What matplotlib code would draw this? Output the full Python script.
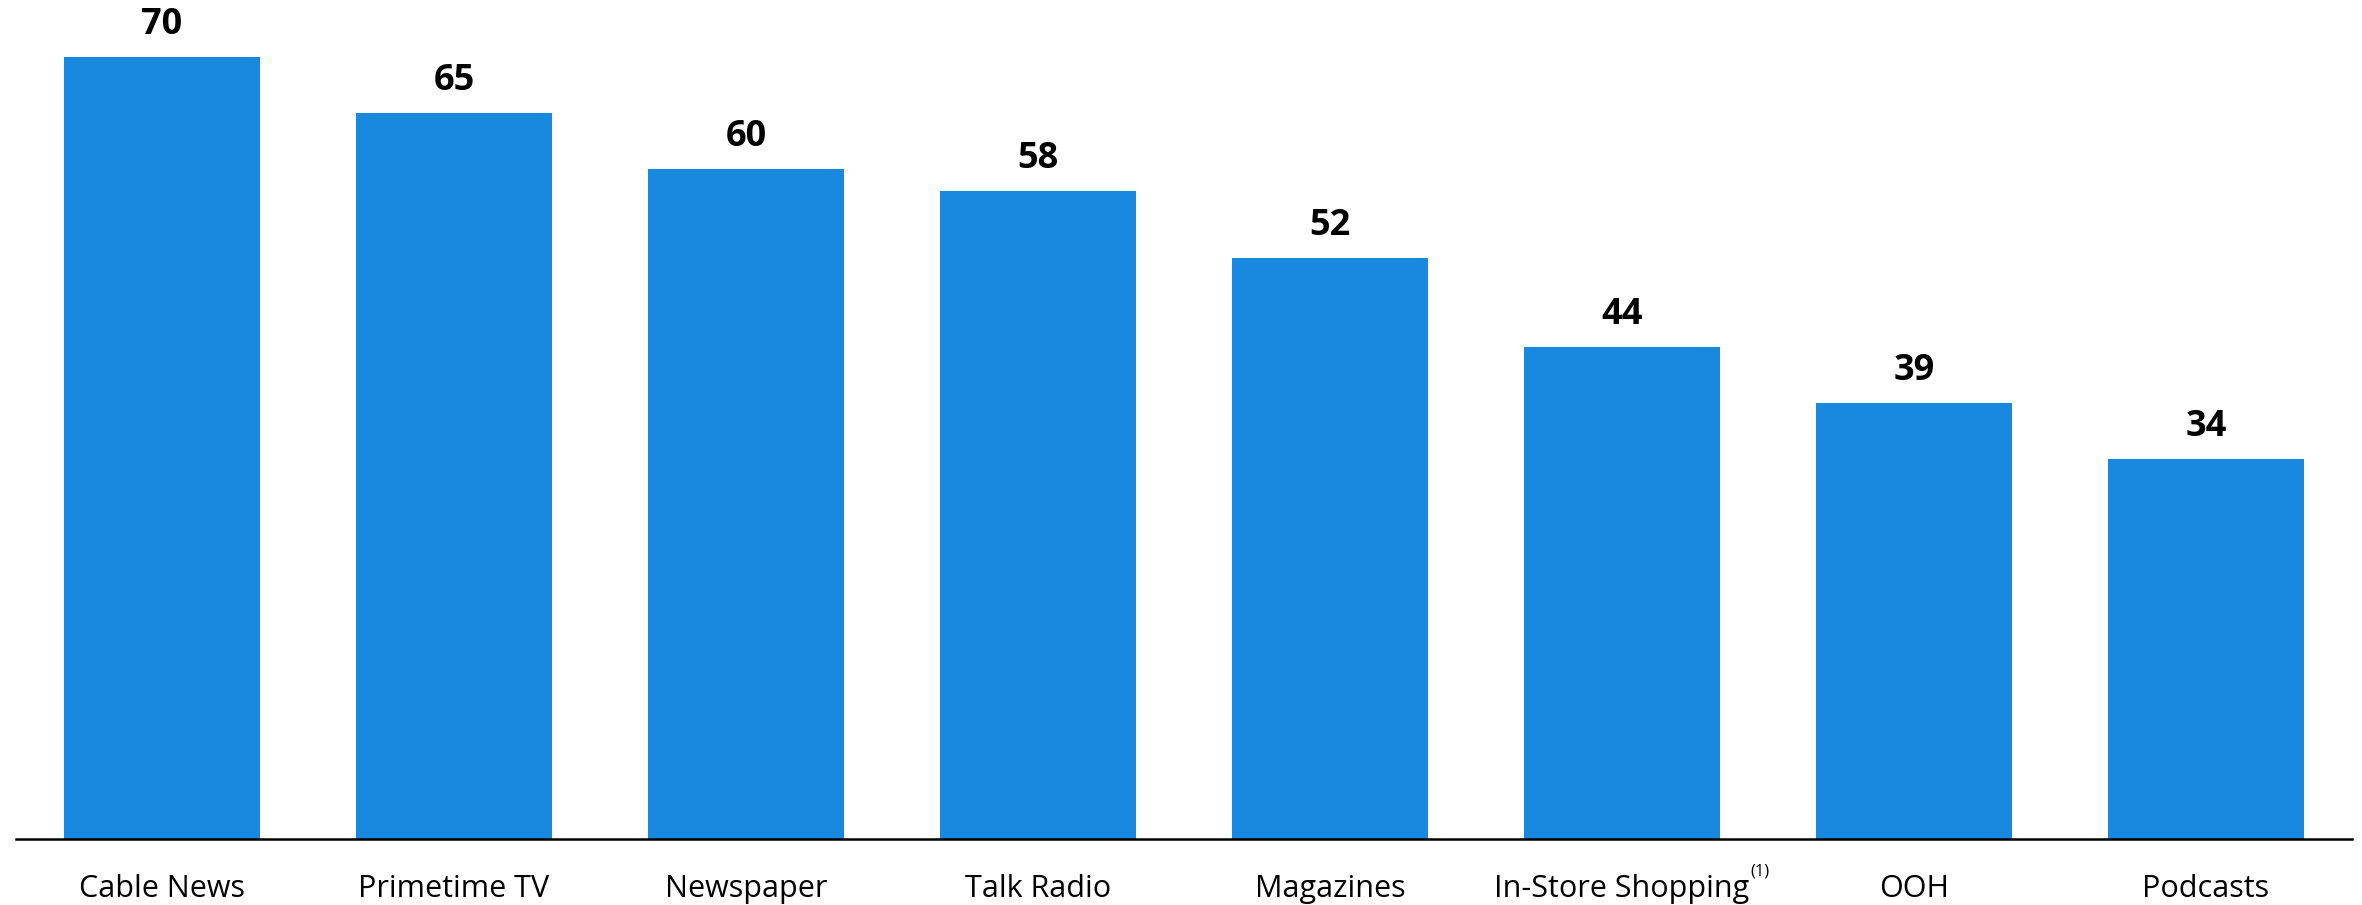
import matplotlib
matplotlib.use("Agg")
import matplotlib.pyplot as plt

# channel scores
categories = ["Cable News", "Primetime TV", "Newspaper", "Talk Radio",
              "Magazines", "In-Store Shopping", "OOH", "Podcasts"]
values = [70, 65, 60, 58, 52, 44, 39, 34]
footnote_label = "In-Store Shopping"
footnote_mark = "(1)"

plt.rcParams['font.family'] = ['Open Sans', 'DejaVu Sans']

fig = plt.figure(figsize=(23.62, 9.05), dpi=100)
ax = fig.add_axes([16/2362, 66/905, 2336/2362, 838/905])

x = range(len(categories))
bars = ax.bar(x, values, width=0.668, color='#1989DF')

for b, v in zip(bars, values):
    ax.annotate(str(v), (b.get_x() + b.get_width()/2, v),
                xytext=(0, 10), textcoords='offset points',
                ha='center', va='bottom', fontsize=26, fontweight='bold')

ax.set_xlim(-0.5, len(categories) - 0.5)
ax.set_ylim(0, 75)
ax.set_xticks(list(x))
ax.set_xticklabels(categories, fontsize=22)
ax.tick_params(axis='x', length=0, pad=25)
ax.set_yticks([])
for s in ['top', 'right', 'left']:
    ax.spines[s].set_visible(False)
ax.spines['bottom'].set_linewidth(1.8)

# superscript footnote next to the label
fig.canvas.draw()
lbl = ax.get_xticklabels()[categories.index(footnote_label)]
bb = lbl.get_window_extent()
fig.text((bb.x1 + 1) / fig.bbox.width, (bb.y1 + 10) / fig.bbox.height, footnote_mark,
         fontsize=12, ha='left', va='top')

fig.savefig("out.png", dpi=100)
